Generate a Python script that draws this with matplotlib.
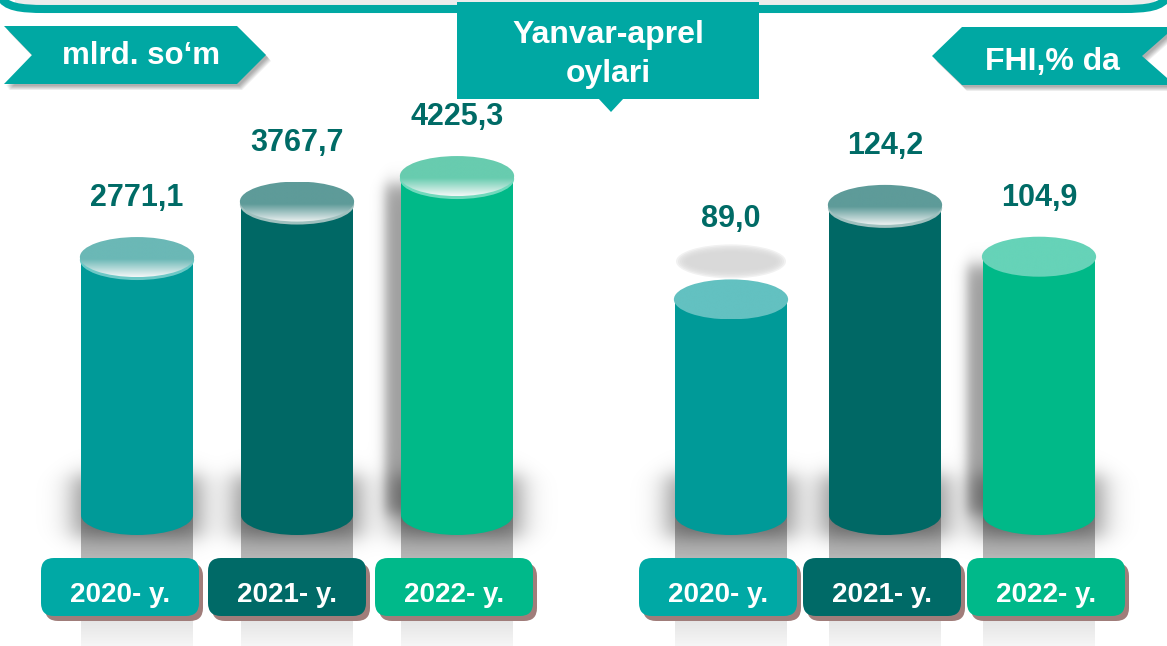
import numpy as np
import matplotlib
matplotlib.use("Agg")
import matplotlib.pyplot as plt
from matplotlib.patches import Ellipse, Rectangle, Polygon, FancyBboxPatch, PathPatch
from matplotlib.path import Path
from matplotlib.colors import LinearSegmentedColormap

plt.rcParams['font.family'] = ['Liberation Sans', 'DejaVu Sans']

# ---------------- data ----------------
years = ["2020- y.", "2021- y.", "2022- y."]
volume_values = [2771.1, 3767.7, 4225.3]          # mlrd. so'm
volume_labels = ["2771,1", "3767,7", "4225,3"]
index_values = [89.0, 124.2, 104.9]               # FHI, % da
index_labels = ["89,0", "124,2", "104,9"]
left_unit = "mlrd. so\u2018m"
right_unit = "FHI,% da"
period_title = "Yanvar-aprel\noylari"

# ---------------- style ----------------
W, H = 1167, 646
TEAL = "#00A8A3"
LABEL_C = "#006B66"
BODY = ["#009A98", "#006865", "#00B988"]
BOX = ["#00A9A5", "#006A67", "#00B98A"]
BOX_SHADOW = "#A07D7A"
TOP_LEFT = [("#F4F7F7", "#6BB8B6", "#6CC8C6"),
            ("#EEF2F2", "#5E9B99", "#9FC0BE"),
            ("#F4F8F7", "#68CCAF", "#70D9BC")]
TOP_RIGHT = [("#63C1C1", "#63C1C1", None),
             ("#EEF2F2", "#5E9B99", "#9FC0BE"),
             ("#66D3B8", "#66D3B8", None)]
BAR_W_PX = 112
RY_PX = 20
BOTTOM_PX = 515

fig = plt.figure(figsize=(W / 100, H / 100), dpi=100)
bg = fig.add_axes([0, 0, 1, 1], zorder=0)
bg.set_xlim(0, W); bg.set_ylim(H, 0); bg.axis('off')
fg = fig.add_axes([0, 0, 1, 1], zorder=3)
fg.set_xlim(0, W); fg.set_ylim(H, 0); fg.axis('off')
fg.patch.set_alpha(0)


def vgrad(ax, x0, x1, y0, y1, stops, clip=None, zorder=2):
    cmap = LinearSegmentedColormap.from_list('g', stops)
    arr = np.linspace(0, 1, 256).reshape(-1, 1)
    im = ax.imshow(arr, extent=[x0, x1, y0, y1], origin='lower', aspect='auto',
                   cmap=cmap, vmin=0, vmax=1, zorder=zorder, interpolation='bilinear')
    if clip is not None:
        im.set_clip_path(clip)
    return im


def sbox(X, a, b, s):
    return 0.5 * (np.tanh((X - a) / s) - np.tanh((X - b) / s))


# ---------------- frame at the top ----------------
fp = Path([(0, -4), (5, 7), (20, 9), (45, 9), (1122, 9), (1148, 9), (1162, 7), (1168, -4)],
          [Path.MOVETO, Path.CURVE4, Path.CURVE4, Path.CURVE4, Path.LINETO,
           Path.CURVE4, Path.CURVE4, Path.CURVE4])
bg.add_patch(Rectangle((15, 0), 1140, 6, color="#ECECEC", lw=0, zorder=1))
bg.add_patch(PathPatch(fp, facecolor='none', edgecolor=TEAL, lw=5.8, zorder=2, capstyle='butt'))


# ---------------- banners ----------------
def soft_shadow(ax, pts, dx, dy, n=6, alpha=0.06, zorder=1):
    for k in range(n):
        off = np.array(pts, float) + [dx + k * 0.6, dy + k * 0.8]
        ax.add_patch(Polygon(off, closed=True, color='black', alpha=alpha, lw=0, zorder=zorder))


left_banner = [(4, 26), (237, 26), (266, 55), (237, 84), (4, 84), (32, 55)]
soft_shadow(bg, left_banner, 2, 2)
bg.add_patch(Polygon(left_banner, closed=True, color=TEAL, lw=0, zorder=3))
bg.text(141, 64, left_unit, color='white', fontsize=22.5, fontweight='bold',
        ha='center', va='baseline', zorder=4)

right_banner = [(962, 27), (1175, 27), (1142, 56), (1175, 85), (962, 85), (932, 56)]
soft_shadow(bg, right_banner, 2, 2)
bg.add_patch(Polygon(right_banner, closed=True, color=TEAL, lw=0, zorder=3))
bg.text(1052, 70, right_unit, color='white', fontsize=23, fontweight='bold',
        ha='center', va='baseline', zorder=4)

bg.add_patch(Rectangle((457, 2), 302, 97, color=TEAL, lw=0, zorder=3))
bg.add_patch(Polygon([(598, 98), (624, 98), (611, 112)], closed=True, color=TEAL, lw=0, zorder=3))
t1, t2 = period_title.split("\n")
bg.text(608, 43, t1, color='white', fontsize=23, fontweight='bold', ha='center', va='baseline', zorder=4)
bg.text(608, 82, t2, color='white', fontsize=23, fontweight='bold', ha='center', va='baseline', zorder=4)


# ---------------- panels ----------------
def panel(x0_px, x1_px, first_px, spacing_px, base, ppu, values, labels, tops,
          ghost_first=False):
    ax = fig.add_axes([x0_px / W, 0, (x1_px - x0_px) / W, 1], zorder=1)
    ax.axis('off')
    ax.patch.set_alpha(0)
    xa = -(first_px - x0_px) / spacing_px
    xb = xa + (x1_px - x0_px) / spacing_px
    ymin = base - (H - BOTTOM_PX) / ppu
    ymax = base + BOTTOM_PX / ppu
    dxp = 1.0 / spacing_px   # data units per pixel (x)
    dyp = 1.0 / ppu          # data units per pixel (y)
    w = BAR_W_PX * dxp
    ry = RY_PX * dyp

    # soft shadows computed on a pixel grid, placed through the data scales
    gy0 = 100
    PX, PY = np.meshgrid(np.arange(x0_px, x1_px) + 0.5, np.arange(gy0, H) + 0.5)
    keep = np.ones_like(PX)
    for i, v in enumerate(values):
        cx = first_px + i * spacing_px
        top_px = BOTTOM_PX - (v - base) * ppu
        halo = 0.42 * sbox(PX, cx - BAR_W_PX / 2 - 8, cx + BAR_W_PX / 2 + 8, 16) * \
            sbox(PY, BOTTOM_PX - 40, BOTTOM_PX + 22, 12)
        keep *= (1 - halo)
        if i == 2:
            side = 0.38 * sbox(PX, cx - BAR_W_PX / 2 - 16, cx, 7) * \
                sbox(PY, top_px + 8, BOTTOM_PX, 10)
            keep *= (1 - side)
    rgba = np.zeros(PX.shape + (4,))
    rgba[..., 3] = 1 - keep
    ext = [(x0_px - first_px) / spacing_px, (x1_px - first_px) / spacing_px,
           base + (BOTTOM_PX - H) / ppu, base + (BOTTOM_PX - gy0) / ppu]

    for i, (v, lab) in enumerate(zip(values, labels)):
        # reflection strip
        vgrad(ax, i - w / 2, i + w / 2, ymin, base,
              [(0, "#F6F6F6"), (0.55, "#C6C6C6"), (0.7, "#B6B6B6"), (1, "#ABABAB")], zorder=1)
    ax.imshow(rgba, extent=ext, origin='upper', aspect='auto', zorder=2,
              interpolation='bilinear')

    for i, (v, lab) in enumerate(zip(values, labels)):
        # body
        ax.add_patch(Rectangle((i - w / 2, base), w, v - base, color=BODY[i], lw=0, zorder=3))
        ax.add_patch(Ellipse((i, base), w, 2 * ry, color=BODY[i], lw=0, zorder=3))
        # top cap
        cbot, ctop, crim = tops[i]
        if crim is not None:
            ax.add_patch(Ellipse((i, v - 3 * dyp), w * 1.02, 2 * ry, color=crim, lw=0, zorder=4))
        cap = Ellipse((i, v), w * 1.02, 2 * ry, facecolor='none', lw=0, zorder=5)
        ax.add_patch(cap)
        vgrad(ax, i - w * 0.52, i + w * 0.52, v - ry, v + ry,
              [(0, cbot), (0.45, ctop), (1, ctop)] if cbot != ctop else [cbot, ctop],
              clip=cap, zorder=5)
        label_off = 59
        if ghost_first and i == 0:
            gy = v + 38 * dyp
            for k in range(6):
                ax.add_patch(Ellipse((i, gy), (110 - 4 * k) * dxp, (34 - 3 * k) * dyp,
                                     color="#D8D8D8", alpha=0.35, lw=0, zorder=4))
            label_off = 38 + 42
        ax.annotate(lab, xy=(i, v), xytext=(0, label_off), textcoords='offset pixels',
                    ha='center', va='center', fontsize=22, fontweight='bold',
                    color=LABEL_C, zorder=6)
    ax.set_xlim(xa, xb)
    ax.set_ylim(ymin, ymax)
    return ax


panel(0, 583, 137, 160, -1860.0, 0.0557, volume_values, volume_labels, TOP_LEFT)
panel(583, W, 731, 154, 8.7, 2.685, index_values, index_labels, TOP_RIGHT, ghost_first=True)


# ---------------- year boxes ----------------
def year_boxes(c0, spacing):
    for i, yl in enumerate(years):
        cx = c0 + i * spacing
        fg.add_patch(FancyBboxPatch((cx - 79 + 4, 558 + 5), 158, 58,
                                    boxstyle="round,pad=0,rounding_size=13",
                                    color=BOX_SHADOW, lw=0, zorder=1))
        fg.add_patch(FancyBboxPatch((cx - 79, 558), 158, 58,
                                    boxstyle="round,pad=0,rounding_size=13",
                                    color=BOX[i], lw=0, zorder=2))
        fg.text(cx, 602, yl, color='white', fontsize=20, fontweight='bold',
                ha='center', va='baseline', zorder=3)


year_boxes(120, 167)
year_boxes(718, 164)

fig.savefig("out.png", dpi=100)
